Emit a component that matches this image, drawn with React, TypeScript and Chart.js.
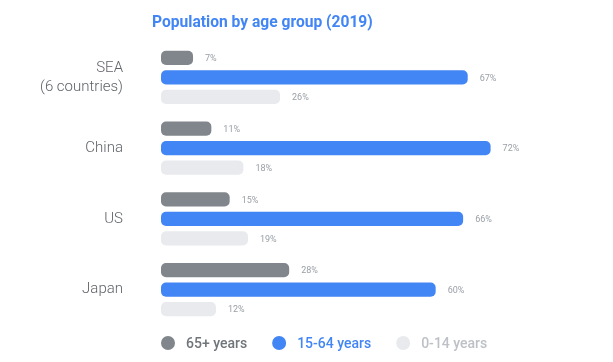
import React, { useEffect, useRef } from "react";
import { Chart, registerables } from "chart.js";

Chart.register(...registerables);

const categories: (string | string[])[] = [["SEA", "(6 countries)"], "China", "US", "Japan"];
const seriesNames = ["65+ years", "15-64 years", "0-14 years"];
const senior = [7, 11, 15, 28];
const working = [67, 72, 66, 60];
const young = [26, 18, 19, 12];
const titleText = "Population by age group (2019)";

const barColors = ["#80868b", "#4285f4", "#e8eaed"];
const legendTextColors = ["#70757a", "#4285f4", "#bdc1c6"];

const valueLabelPlugin = {
  id: "valueLabels",
  afterDatasetsDraw(chart: any) {
    const ctx = chart.ctx;
    ctx.save();
    ctx.font = "400 9px Roboto";
    ctx.fillStyle = "#9aa0a6";
    ctx.textAlign = "left";
    ctx.textBaseline = "middle";
    chart.data.datasets.forEach((ds: any, i: number) => {
      const meta = chart.getDatasetMeta(i);
      meta.data.forEach((bar: any, j: number) => {
        ctx.fillText(ds.data[j] + "%", bar.x + 12, bar.y + 1);
      });
    });
    ctx.restore();
  },
};

const titleLegendPlugin = {
  id: "titleLegend",
  afterDraw(chart: any) {
    const ctx = chart.ctx;
    ctx.save();
    // title
    ctx.font = "700 15.6px Roboto";
    ctx.fillStyle = "#4285f4";
    ctx.textAlign = "left";
    ctx.textBaseline = "middle";
    ctx.fillText(titleText, 152, 23);
    // legend
    let x = chart.chartArea.left;
    const y = 343;
    ctx.font = "500 14px Roboto";
    chart.data.datasets.forEach((ds: any, i: number) => {
      ctx.beginPath();
      ctx.fillStyle = ds.backgroundColor;
      ctx.arc(x + 7, y, 7, 0, Math.PI * 2);
      ctx.fill();
      ctx.fillStyle = legendTextColors[i];
      ctx.fillText(ds.label, x + 25, y + 1);
      const w = ctx.measureText(ds.label).width;
      x = x + 25 + w + 25;
    });
    ctx.restore();
  },
};

export default function App() {
  const ref = useRef<HTMLCanvasElement | null>(null);
  useEffect(() => {
    if (!ref.current) return;
    const chart = new Chart(ref.current, {
      type: "bar",
      data: {
        labels: categories,
        datasets: [senior, working, young].map((d, i) => ({
          label: seriesNames[i],
          data: d,
          backgroundColor: barColors[i],
          borderRadius: 5,
          borderSkipped: false,
          barPercentage: 0.72,
          categoryPercentage: 0.827,
        })),
      },
      options: {
        indexAxis: "y",
        animation: false,
        responsive: true,
        maintainAspectRatio: false,
        layout: { padding: { top: 42, bottom: 37, left: 0, right: 40 } },
        plugins: {
          legend: { display: false },
          title: { display: false },
          tooltip: { enabled: false },
        },
        scales: {
          x: {
            display: false,
            min: 0,
            max: 90,
            grid: { display: false },
          },
          y: {
            grid: { display: false },
            border: { display: false },
            afterFit(scale: any) {
              scale.width = 161;
              scale.paddingTop = 0;
              scale.paddingBottom = 0;
            },
            ticks: {
              padding: 30,
              color: "#5f6368",
              font: { family: "Roboto", size: 15, weight: "300", lineHeight: 1.27 },
            },
          },
        },
      },
      plugins: [valueLabelPlugin, titleLegendPlugin],
    });
    return () => chart.destroy();
  }, []);
  return (
    <div style={{ position: "absolute", left: 0, top: 0, width: 613, height: 362, background: "#ffffff" }}>
      <canvas ref={ref} />
    </div>
  );
}
